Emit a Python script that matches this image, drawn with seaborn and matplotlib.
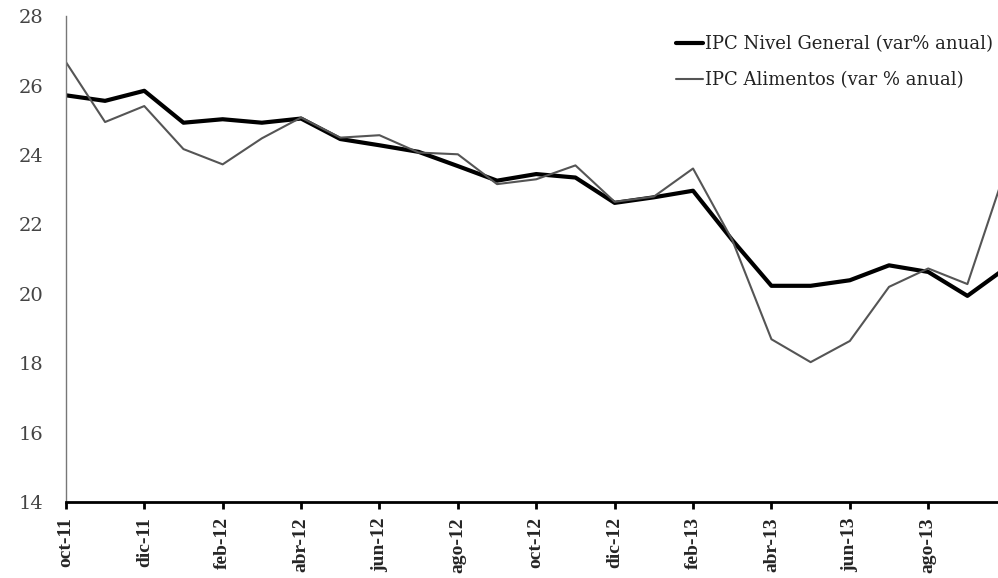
import numpy as np
import pandas as pd
import seaborn as sns
import matplotlib.pyplot as plt

meses = ['oct-11', 'nov-11', 'dic-11', 'ene-12', 'feb-12', 'mar-12', 'abr-12',
         'may-12', 'jun-12', 'jul-12', 'ago-12', 'sep-12', 'oct-12', 'nov-12',
         'dic-12', 'ene-13', 'feb-13', 'mar-13', 'abr-13', 'may-13', 'jun-13',
         'jul-13', 'ago-13', 'sep-13', 'oct-13']
ipc_general = [25.72, 25.56, 25.85, 24.93, 25.03, 24.93, 25.05, 24.46, 24.28,
               24.09, 23.68, 23.26, 23.45, 23.35, 22.62, 22.78, 22.97, 21.55,
               20.23, 20.23, 20.39, 20.82, 20.63, 19.94, 20.76]
ipc_alimentos = [26.68, 24.95, 25.41, 24.17, 23.73, 24.48, 25.08, 24.50, 24.57,
                 24.07, 24.02, 23.16, 23.30, 23.70, 22.65, 22.80, 23.61, 21.55,
                 18.69, 18.03, 18.64, 20.20, 20.73, 20.28, 23.67]
etiquetas = ['IPC Nivel General (var% anual)', 'IPC Alimentos (var % anual)']

df = pd.DataFrame({
    'mes': np.arange(len(meses)),
    etiquetas[0]: ipc_general,
    etiquetas[1]: ipc_alimentos,
})
df_long = df.melt(id_vars='mes', var_name='serie', value_name='valor')

sns.set_style('white')
fig = plt.figure(figsize=(9.98, 5.78), dpi=100)
ax = fig.add_axes([0.066, 0.1315, 0.934, 0.8405])

sns.lineplot(data=df_long, x='mes', y='valor', hue='serie', size='serie',
             hue_order=etiquetas, size_order=etiquetas,
             palette={etiquetas[0]: 'black', etiquetas[1]: '#555555'},
             sizes={etiquetas[0]: 3.0, etiquetas[1]: 1.5},
             ax=ax)

ax.set_xlim(0, 23.78)
ax.set_ylim(14, 28)
ax.set_xticks(np.arange(0, len(meses) - 1, 2))
ax.set_xticklabels(meses[0:len(meses) - 1:2], rotation=90,
                   fontfamily='Liberation Serif', fontweight='bold', fontsize=14)
ax.set_yticks(np.arange(14, 29, 2))
ax.set_yticklabels([str(v) for v in range(14, 29, 2)],
                   fontfamily='DejaVu Serif', fontsize=14, color='#444444')
ax.set_xlabel('')
ax.set_ylabel('')

for s in ['top', 'right']:
    ax.spines[s].set_visible(False)
ax.spines['left'].set_color('#777777')
ax.spines['left'].set_linewidth(1.0)
ax.spines['bottom'].set_color('black')
ax.spines['bottom'].set_linewidth(2.0)
ax.tick_params(axis='x', bottom=True, length=5, width=2, color='black', pad=6)
ax.tick_params(axis='y', left=False, pad=13)

leg = ax.legend(loc='upper right', bbox_to_anchor=(1.012, 0.995), frameon=False,
                handlelength=1.5, handletextpad=0.1, labelspacing=1.0,
                prop={'family': 'DejaVu Serif', 'size': 13})
for t in leg.get_texts():
    t.set_color('#222222')

fig.savefig('out.png', dpi=100)
